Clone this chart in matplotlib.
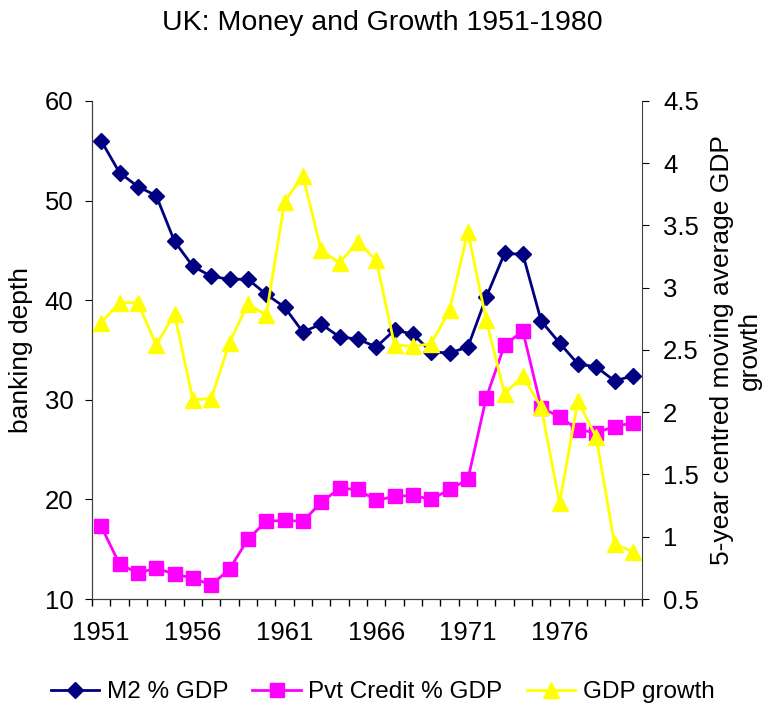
import matplotlib
matplotlib.use("Agg")
import matplotlib.pyplot as plt
from matplotlib.ticker import FormatStrFormatter, FixedLocator

plt.rcParams['font.family'] = ['Liberation Sans', 'DejaVu Sans']

years = list(range(1951, 1981))

m2_gdp = [56.0, 52.8, 51.4, 50.5, 45.9, 43.4, 42.4, 42.1, 42.1, 40.6,
          39.3, 36.8, 37.6, 36.3, 36.1, 35.3, 37.0, 36.6, 34.8, 34.7,
          35.3, 40.3, 44.7, 44.6, 37.9, 35.7, 33.6, 33.3, 31.9, 32.4]

pvt_credit = [17.3, 13.5, 12.6, 13.1, 12.5, 12.1, 11.4, 13.0, 16.0, 17.8,
              17.9, 17.8, 19.7, 21.1, 21.0, 19.9, 20.3, 20.4, 20.0, 21.0,
              22.0, 30.2, 35.5, 36.9, 29.2, 28.3, 27.0, 26.7, 27.3, 27.7]

gdp_growth = [2.72, 2.88, 2.88, 2.54, 2.79, 2.10, 2.11, 2.56, 2.87, 2.78,
              3.69, 3.90, 3.30, 3.20, 3.37, 3.22, 2.54, 2.53, 2.55, 2.82,
              3.45, 2.74, 2.15, 2.29, 2.04, 1.27, 2.09, 1.80, 0.94, 0.88]

label_years = [1951, 1956, 1961, 1966, 1971, 1976]

fig = plt.figure(figsize=(7.65, 7.12), dpi=100)
ax = fig.add_axes([0.1203, 0.1587, 0.7190, 0.6995])
ax2 = ax.twinx()

l1, = ax.plot(years, m2_gdp, color='#000080', marker='D', markersize=8,
              linewidth=2, label='M2 % GDP')
l2, = ax.plot(years, pvt_credit, color='#FF00FF', marker='s', markersize=10.5,
              linewidth=2, label='Pvt Credit % GDP')
l3, = ax2.plot(years, gdp_growth, color='#FFFF00', marker='^', markersize=11.5,
               linewidth=2, label='GDP growth')

ax.set_xlim(1950.5, 1980.5)
ax.set_ylim(10, 60)
ax2.set_ylim(0.5, 4.5)
ax.set_yticks(range(10, 61, 10))
ax2.set_yticks([0.5 + 0.5 * i for i in range(9)])
ax2.yaxis.set_major_formatter(FormatStrFormatter('%g'))

# category boundaries get tick marks, every fifth year gets a label
ax.xaxis.set_major_locator(FixedLocator([1950.5 + i for i in range(31)]))
ax.xaxis.set_major_formatter(plt.NullFormatter())
ax.xaxis.set_minor_locator(FixedLocator(label_years))
ax.set_xticklabels([str(y) for y in label_years], minor=True)
ax.tick_params(axis='x', which='major', direction='out', length=5, width=1)
ax.tick_params(axis='x', which='minor', length=0, labelsize=18.5, pad=16)
ax.tick_params(axis='y', direction='out', length=5, labelsize=18.5, pad=8.5)
ax2.tick_params(axis='y', direction='out', length=5, labelsize=18.5, pad=10)

for a in (ax, ax2):
    a.spines['top'].set_visible(False)
    for s in ('left', 'right', 'bottom'):
        a.spines[s].set_color('#404040')
ax.spines['right'].set_visible(False)

ax.set_ylabel('banking depth', fontsize=19, labelpad=8)
ax2.set_ylabel('5-year centred moving average GDP\ngrowth', fontsize=19,
               labelpad=8)

fig.text(0.5, 0.968, 'UK: Money and Growth 1951-1980', ha='center',
         va='center', fontsize=20.5)

fig.legend(handles=[l1, l2, l3], loc='center', bbox_to_anchor=(0.5, 0.028),
           ncol=3, frameon=False, fontsize=17.5, handlelength=2.0,
           columnspacing=1.0, handletextpad=0.3)

fig.savefig('out.png', dpi=100)
